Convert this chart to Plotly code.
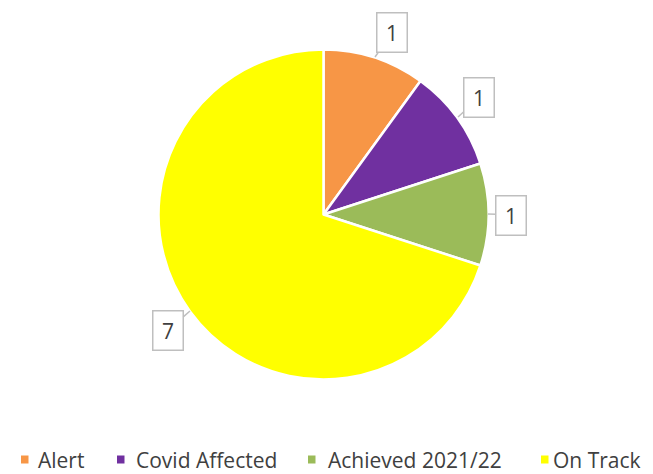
import plotly.graph_objects as go

categories = ["Alert", "Covid Affected", "Achieved 2021/22", "On Track"]
values = [1, 1, 1, 7]
colors = ["#F79646", "#7030A0", "#9BBB59", "#FFFF00"]

W, H = 653, 474


def px(x):
    return x / W


def py(y):
    return (H - y) / H


cx, cy, r = 323.5, 214.5, 165

fig = go.Figure(go.Pie(
    labels=categories, values=values, sort=False, direction="clockwise",
    rotation=0, textinfo="none", hoverinfo="label+value", showlegend=False,
    marker=dict(colors=colors, line=dict(color="white", width=2.5)),
    domain=dict(x=[px(cx - r), px(cx + r)], y=[py(cy + r), py(cy - r)]),
))

# callout labels: (box centre, pointer tip) in page pixels
callouts = [((392, 33), (375, 57)), ((479, 98), (458, 117)), ((511, 215), (488, 214)), ((168, 330), (190, 311))]
for v, (box, tip) in zip(values, callouts):
    fig.add_annotation(
        x=px(tip[0]), y=py(tip[1]), xref="paper", yref="paper",
        ax=box[0] - tip[0], ay=box[1] - tip[1], axref="pixel", ayref="pixel",
        text=str(v), showarrow=True, arrowhead=0, arrowwidth=1.5, arrowcolor="#BFBFBF",
        bordercolor="#BFBFBF", borderwidth=1.5, bgcolor="white", borderpad=2,
        width=25, height=34, font=dict(size=21, color="#404040", family="Open Sans"),
    )

# custom legend (marker left x, text left x)
legend_pos = [(21, 37), (117, 135), (308, 327), (541, 552)]
ly = 459.5
for cat, col, (mx, tx) in zip(categories, colors, legend_pos):
    fig.add_shape(type="rect", xref="paper", yref="paper",
                  x0=px(mx), x1=px(mx + 7.5), y0=py(ly + 4), y1=py(ly - 4),
                  fillcolor=col, line=dict(width=0))
    fig.add_annotation(x=px(tx), y=py(ly), xref="paper", yref="paper",
                       xanchor="left", yanchor="middle", showarrow=False, text=cat,
                       borderpad=0,
                       font=dict(size=21, color="#404040", family="Open Sans"))

fig.update_layout(
    width=W, height=H, margin=dict(l=0, r=0, t=0, b=0),
    paper_bgcolor="white", plot_bgcolor="white",
)
fig.write_html("out.html", config={"displayModeBar": False},
               post_script="document.body.style.margin='0px';")
